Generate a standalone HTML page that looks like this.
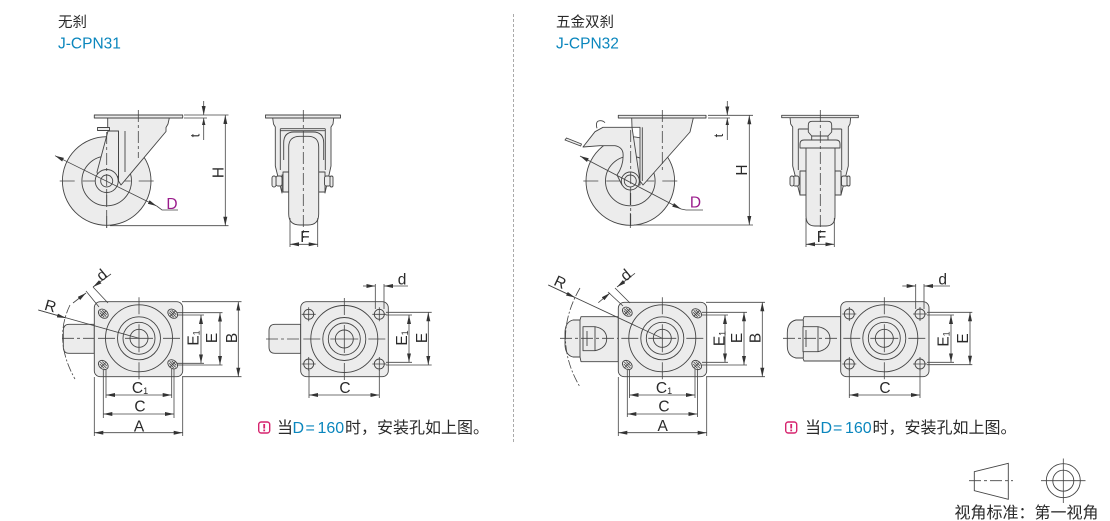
<!DOCTYPE html>
<html><head><meta charset="utf-8"><style>
html,body{margin:0;padding:0;background:#fff;width:1110px;height:521px;overflow:hidden}
svg{display:block}
text{font-family:"Liberation Sans","Noto Sans CJK SC",sans-serif;fill:#2a2a2a}
.l{font-size:15.5px;text-anchor:middle}
.m{fill:none;stroke:#444;stroke-width:.9}
.f{fill:#ececec;stroke:#444;stroke-width:.9;stroke-linejoin:round}
.d{fill:none;stroke:#444;stroke-width:.8}
.cl{fill:none;stroke:#444;stroke-width:.8;stroke-dasharray:12 3 3 3}
.a{marker-start:url(#ar);marker-end:url(#ar)}
.e{marker-end:url(#ar)}
.b{fill:#0a86bd}
</style></head><body>
<svg width="1110" height="521" viewBox="0 0 1110 521" xmlns="http://www.w3.org/2000/svg">
<defs>
<marker id="ar" markerUnits="userSpaceOnUse" markerWidth="10" markerHeight="5" refX="9" refY="2" orient="auto-start-reverse"><path d="M0,0L9,2L0,4Z" fill="#333"/></marker>
<g id="rings">
<circle r="33.5" class="m"/><circle r="21.5" class="m"/><circle r="16" class="m"/><circle r="9" class="m"/>
<path class="d" d="M0,-41V-24M0,-14V14M0,24V41M-41,0H-24M-14,0H14M24,0H41"/>
</g>
<g id="hx"><ellipse rx="5.4" ry="4" transform="rotate(40)" class="f"/><path class="d" d="M-3,-3L3,3M-3,3L3,-3M-1,-3.5L3.5,1M-3.5,-1L1,3.5"/></g>
<g id="hp"><circle r="5" class="f"/><path class="d" d="M-7,0H7M0,-7V7"/></g>
<g id="wheel">
<circle r="44.3" class="f"/><circle r="24.8" class="m"/>
<path class="d" d="M-47,0H-32M-24,0H-8M8,0H24M32,0H47M0,-18V-8M0,8V24M0,32V47"/>
</g>
<g id="bolt">
<rect x="-3" y="-5" width="6" height="10" rx="2" class="f"/>
</g>
</defs>

<line x1="513.5" y1="14" x2="513.5" y2="444" stroke="#aaa" stroke-width="1" stroke-dasharray="3 2"/>

<!-- titles -->
<text x="58" y="27" font-size="14.5">无刹</text>
<text x="58" y="48.5" font-size="15.5" class="b" style="fill:#0a86bd">J-CPN31</text>
<text x="556" y="27" font-size="14.5">五金双刹</text>
<text x="556" y="48.5" font-size="15.5" style="fill:#0a86bd">J-CPN32</text>

<!-- ========= LEFT SIDE VIEW ========= -->
<use href="#wheel" x="106.7" y="181"/>
<path class="f" d="M107.7,118H169.3L168,124L166,127.5L166,131.5L121,185L118.5,181V131H108L107.7,126Z"/>
<path class="f" d="M108,131H118.5V176L112,181H102Q98,178 97,172Z"/>
<path class="m" d="M118.5,131V181M125,131V172"/>
<rect x="97.5" y="127.5" width="12" height="3" class="f"/>
<rect x="94.3" y="115" width="88.4" height="3" class="f"/>
<circle cx="106.7" cy="181" r="11.5" class="f"/>
<path class="cl" d="M138.3,110V158M106.7,132V228"/>
<circle cx="106.7" cy="181" r="6" class="m" stroke-width="1.4" fill="#ececec"/>
<path class="d a" d="M55,155.7L156.7,206"/>
<path class="d" d="M156.7,206L162,210H178"/>
<text x="172" y="209" font-size="15.5" text-anchor="middle" style="fill:#9a1b8c">D</text>
<!-- H / t dims -->
<path class="d" d="M184,115H228.5M184,118H207M110,225.7H228.5"/>
<path class="d e" d="M203.7,101V115"/>
<path class="d" d="M203.7,118V140"/>
<path d="M203.7,118L202,125H205.4Z" fill="#333"/>
<path class="d a" d="M225.3,115V225.7"/>
<text class="l" transform="translate(223.5,172.5) rotate(-90)">H</text>
<text class="l" transform="translate(199.5,135.5) rotate(-90)" style="font-size:13px">t</text>

<!-- left front view -->
<path class="f" d="M272.7,118H333.7L333,124L331,127V166L325,193V175H282V193L275.3,166V127L273.5,124Z"/>
<path class="m" d="M280.3,128.7H325.3M280.3,130.7H325.3M280.3,128.7V170M325.3,128.7V170M283.7,160V143Q283.7,132 294,132H313Q323.7,132 323.7,143V160"/>
<path class="f" d="M283,172H290V192H283ZM317,172H325V192H317Z"/>
<path class="f" d="M288.7,147Q288.7,136.3 300,136.3H308Q318.7,136.3 318.7,147V214Q318.7,225 308,225H300Q288.7,225 288.7,214Z"/>
<use href="#bolt" x="279" y="181"/><use href="#bolt" x="327.5" y="181"/>
<rect x="272" y="176" width="4" height="11" rx="2" class="f"/><rect x="330" y="176" width="3" height="11" rx="1.5" class="f"/>
<rect x="265.5" y="115" width="75" height="3" class="f"/>
<path class="cl" d="M303.3,110V238"/>
<path class="d" d="M290,218V247M317.7,218V247"/>
<path class="d a" d="M290,244.3H317.7"/>
<text class="l" x="305" y="242">F</text>

<!-- left plan 1 -->
<path class="f" d="M94.3,324.3H69Q63.3,324.3 63.3,331V347Q63.3,353.3 69,353.3H94.3Z"/>
<rect x="94.3" y="301.7" width="88.4" height="75" rx="6" class="f"/>
<use href="#rings" x="139" y="338.3"/>
<use href="#hx" x="103.3" y="313.7"/><use href="#hx" x="172.7" y="313.7"/>
<use href="#hx" x="103.3" y="365"/><use href="#hx" x="172.7" y="364.3"/>
<path class="cl" d="M62,338.3H94"/>
<path class="d" d="M182,301.7H241.5M182,376.7H241.5M177,312.7H222.5M177,315H204M177,363.3H204M177,365H222.5"/>
<path class="d" d="M94.3,377V436M182.7,377V436M103.3,370V418M106,370V398M171.7,369V398M174,369V418"/>
<path class="d a" d="M238.3,301.7V376.7"/><path class="d a" d="M220,312.7V365"/><path class="d a" d="M201,315V363.3"/>
<path class="d a" d="M94.3,432.7H182.7"/><path class="d a" d="M103.3,414H174"/><path class="d a" d="M106,395H171.7"/>
<text class="l" transform="translate(198.5,338) rotate(-90)">E<tspan font-size="9" dy="1">1</tspan></text>
<text class="l" transform="translate(217,338) rotate(-90)">E</text>
<text class="l" transform="translate(237,338) rotate(-90)">B</text>
<text class="l" x="140" y="393">C<tspan font-size="9" dy="1">1</tspan></text>
<text class="l" x="140" y="411.5">C</text>
<text class="l" x="139" y="431.5">A</text>
<path class="d" d="M38.3,310L139,338.3"/><path class="d e" d="M38.3,310L66,318"/>
<text class="l" transform="translate(49,311) rotate(16)">R</text>
<path class="d" stroke-dasharray="9 2 2 2" d="M70,305Q53,340 75,379"/>
<path class="d" d="M99,307L86,291M108,303L93,287"/>
<path class="d e" d="M73,303L86,293"/><path class="d e" d="M111,274L93,287"/>
<text class="l" transform="translate(105,279) rotate(-40)">d</text>

<!-- left plan 2 -->
<path class="f" d="M300.7,324.3H275Q269,324.3 269,331V347Q269,353.3 275,353.3H300.7Z"/>
<rect x="300.7" y="301.7" width="87.6" height="75" rx="6" class="f"/>
<use href="#rings" x="344.3" y="339"/>
<use href="#hp" x="308.7" y="314.3"/><use href="#hp" x="379.3" y="314.3"/>
<use href="#hp" x="308.7" y="364"/><use href="#hp" x="379.3" y="364"/>
<path class="cl" d="M266,339H300"/>
<path class="d" d="M386,312.3H431.7M386,315H412M386,362.3H412M386,365H431.7M375.3,284V309M384,284V309M309,370V398M379.3,370V398"/>
<path class="d a" d="M428.3,312.3V365"/><path class="d a" d="M409,315V362.3"/>
<path class="d a" d="M309,395H379.3"/>
<path class="d e" d="M363,286H375.3"/><path class="d e" d="M408,286H384"/>
<text class="l" x="402" y="284.5">d</text>
<text class="l" transform="translate(407,338) rotate(-90)">E<tspan font-size="9" dy="1">1</tspan></text>
<text class="l" transform="translate(427,338) rotate(-90)">E</text>
<text class="l" x="345" y="393">C</text>

<!-- note 1 -->
<rect x="258.7" y="422" width="11" height="11" rx="2.5" fill="#fff" stroke="#d6246e" stroke-width="1.4"/>
<rect x="263.3" y="424" width="1.8" height="4.5" fill="#d6246e"/><rect x="263.3" y="429.5" width="1.8" height="1.8" fill="#d6246e"/>
<text y="433" font-size="16"><tspan x="277">当</tspan><tspan x="292.5" style="fill:#0a86bd">D</tspan><tspan x="305.5" style="fill:#0a86bd">=</tspan><tspan x="317.5" style="fill:#0a86bd">160</tspan><tspan x="345">时，安装孔如上图。</tspan></text>

<!-- ========= RIGHT SIDE VIEW ========= -->
<use href="#wheel" x="630.3" y="181"/>
<path class="f" d="M631.7,118H693.3L690,132L643,185L640,181L632,127.3H603L595,131.7L583,147L600,145.7H615Q622,147 623,153Q624,165 617,175L622,185H640V127.3H632Z"/>
<path class="m" d="M642.3,127.3V181"/>
<path class="f" d="M565,140L580.7,146L581.5,144L566.5,138Z"/>
<path class="m" d="M597,128.3Q595,121 600,120.7Q603,120.5 605,122.7"/>
<rect x="618.3" y="115.3" width="87.7" height="2.7" class="f"/>
<circle cx="630.3" cy="181" r="9" class="f"/>
<path class="cl" d="M662.3,110V170M630.7,130V228"/>
<circle cx="630.3" cy="181" r="6" class="m" stroke-width="1.4" fill="#ececec"/>
<path class="d a" d="M580,156L681,209"/>
<path class="d" d="M681,209L686,210H703"/>
<text x="695.5" y="207.5" font-size="15.5" text-anchor="middle" style="fill:#9a1b8c">D</text>
<path class="d" d="M708,115.3H753M708,118H730M634,225H753"/>
<path class="d e" d="M727.3,101V115.3"/>
<path class="d" d="M727.3,118V140"/>
<path d="M727.3,118L725.6,125H729Z" fill="#333"/>
<path class="d a" d="M749.3,115.3V225"/>
<text class="l" transform="translate(747,170) rotate(-90)">H</text>
<text class="l" transform="translate(723,135.5) rotate(-90)" style="font-size:13px">t</text>

<!-- right front view -->
<path class="f" d="M790,117.3H850.7L850,124L848.3,127V166L841,195V175H800V195L792.7,166V127L790.7,124Z"/>
<path class="m" d="M798.3,129V170M841.7,129V170M798.3,129H808M832,129H841.7"/>
<path class="f" d="M800,148V144Q800,140 804,140H836Q840,140 840,144V148Z"/>
<path class="f" d="M811.7,136H828V140H811.7Z"/>
<path class="f" d="M808.3,125Q808.3,121.3 812,121.3H828Q831.7,121.3 831.7,125V132L828,136H811.7L808.3,132Z"/>
<path class="f" d="M800,171H806V195H800ZM835,171H841V195H835Z"/>
<path class="f" d="M806,148H835V216Q835,226 826,226H815Q806,226 806,216Z"/>
<use href="#bolt" x="796" y="181"/><use href="#bolt" x="844.5" y="181"/>
<rect x="790" y="176" width="4" height="10" rx="2" class="f"/><rect x="847" y="176" width="3" height="10" rx="1.5" class="f"/>
<rect x="781.7" y="115.3" width="76.6" height="2.4" class="f"/>
<path class="cl" d="M820.3,110V238"/>
<path class="d" d="M806,218V247M834.3,218V247"/>
<path class="d a" d="M806,244.3H834.3"/>
<text class="l" x="821.5" y="242">F</text>

<!-- right plan 1 -->
<path class="f" d="M618.3,316.7H581L580,320H573Q565,322 565,333V344Q565,355 573,357H580L581,361.7H618.3Z"/>
<path class="m" d="M580,320V357"/>
<path class="f" d="M595,326.7H583V350.7H595Q606.7,348 606.7,338.7Q606.7,329 595,326.7Z"/>
<path class="m" d="M595,326.7V350.7M587,331V346"/>
<rect x="618.3" y="302.3" width="88.4" height="74.4" rx="6" class="f"/>
<use href="#rings" x="662.3" y="338.3"/>
<use href="#hx" x="627.3" y="311.7"/><use href="#hx" x="696.7" y="313.3"/>
<use href="#hx" x="627.3" y="365"/><use href="#hx" x="696.7" y="365"/>
<path class="cl" d="M560,338.3H618"/>
<path class="d" d="M706,302.3H765M706,376.7H765M702,312.3H747M702,315H728M702,362.3H728M702,365H747"/>
<path class="d" d="M618.3,377V436M706.7,377V436M627.3,370V417M629.5,370V398M695,369V398M697.5,369V417"/>
<path class="d a" d="M762.3,302.3V376.7"/><path class="d a" d="M744,312.3V365"/><path class="d a" d="M725,315V362.3"/>
<path class="d a" d="M618.3,432.7H706.7"/><path class="d a" d="M627.3,414H697.5"/><path class="d a" d="M629.5,395H695"/>
<text class="l" transform="translate(724.5,338.5) rotate(-90)">E<tspan font-size="9" dy="1">1</tspan></text>
<text class="l" transform="translate(742,338) rotate(-90)">E</text>
<text class="l" transform="translate(760.5,338) rotate(-90)">B</text>
<text class="l" x="664" y="393">C<tspan font-size="9" dy="1">1</tspan></text>
<text class="l" x="664" y="411.5">C</text>
<text class="l" x="662.7" y="431">A</text>
<path class="d" d="M548.3,285L662.3,338.3"/><path class="d e" d="M548.3,285L575,297.5"/>
<text class="l" transform="translate(558,287) rotate(25)">R</text>
<path class="d" stroke-dasharray="9 2 2 2" d="M580,288Q551,338 580,387"/>
<path class="d" d="M623,306L608,292M630,303L615,288"/>
<path class="d e" d="M598.3,302.7L610,293"/><path class="d e" d="M635,273.3L617,287"/>
<text class="l" transform="translate(629,279) rotate(-40)">d</text>

<!-- right plan 2 -->
<path class="f" d="M840.7,316.7H804L803,320H796Q787.3,322 787.3,333V346Q787.3,356 796,358H803L804,361H840.7Z"/>
<path class="m" d="M803.3,320V358"/>
<path class="f" d="M818,326.7H803V351.7H818Q830,349 830,339Q830,329 818,326.7Z"/>
<path class="m" d="M818,326.7V351.7M806,330V347"/>
<rect x="840.7" y="301.7" width="88.3" height="75" rx="6" class="f"/>
<use href="#rings" x="884.3" y="338.3"/>
<use href="#hp" x="849.3" y="314"/><use href="#hp" x="920" y="314"/>
<use href="#hp" x="849.3" y="364"/><use href="#hp" x="920" y="364"/>
<path class="cl" d="M783,338.3H840"/>
<path class="d" d="M927,312.3H972.3M927,315H954M927,362.3H954M927,364.7H972.3M915.7,284V309M924,284V309M849.3,370V398M920,370V398"/>
<path class="d a" d="M970,312.3V364.7"/><path class="d a" d="M951,315V362.3"/>
<path class="d a" d="M849.3,395H920"/>
<path class="d e" d="M902.3,286H915.7"/><path class="d e" d="M950,286H924"/>
<text class="l" x="942.7" y="284.5">d</text>
<text class="l" transform="translate(948.5,339) rotate(-90)">E<tspan font-size="9" dy="1">1</tspan></text>
<text class="l" transform="translate(968,338.5) rotate(-90)">E</text>
<text class="l" x="885" y="393">C</text>

<!-- note 2 -->
<rect x="785.7" y="422" width="11" height="11" rx="2.5" fill="#fff" stroke="#d6246e" stroke-width="1.4"/>
<rect x="790.3" y="424" width="1.8" height="4.5" fill="#d6246e"/><rect x="790.3" y="429.5" width="1.8" height="1.8" fill="#d6246e"/>
<text y="433" font-size="16"><tspan x="805">当</tspan><tspan x="820.5" style="fill:#0a86bd">D</tspan><tspan x="833" style="fill:#0a86bd">=</tspan><tspan x="845" style="fill:#0a86bd">160</tspan><tspan x="872.5">时，安装孔如上图。</tspan></text>

<!-- projection symbol -->
<path class="m" d="M974.3,471.7L1008.3,463.3V499.3L974.3,490.7Z"/>
<path class="cl" stroke-dasharray="10 2 2 2" d="M969,480.7H1013"/>
<circle cx="1063.3" cy="480.7" r="17" class="m"/><circle cx="1063.3" cy="480.7" r="10.5" class="m"/>
<path class="d" d="M1041,480.7H1085.5M1063.3,458.5V503"/>
<text x="954.5" y="518" font-size="16">视角标准：第一视角</text>
</svg>
</body></html>
